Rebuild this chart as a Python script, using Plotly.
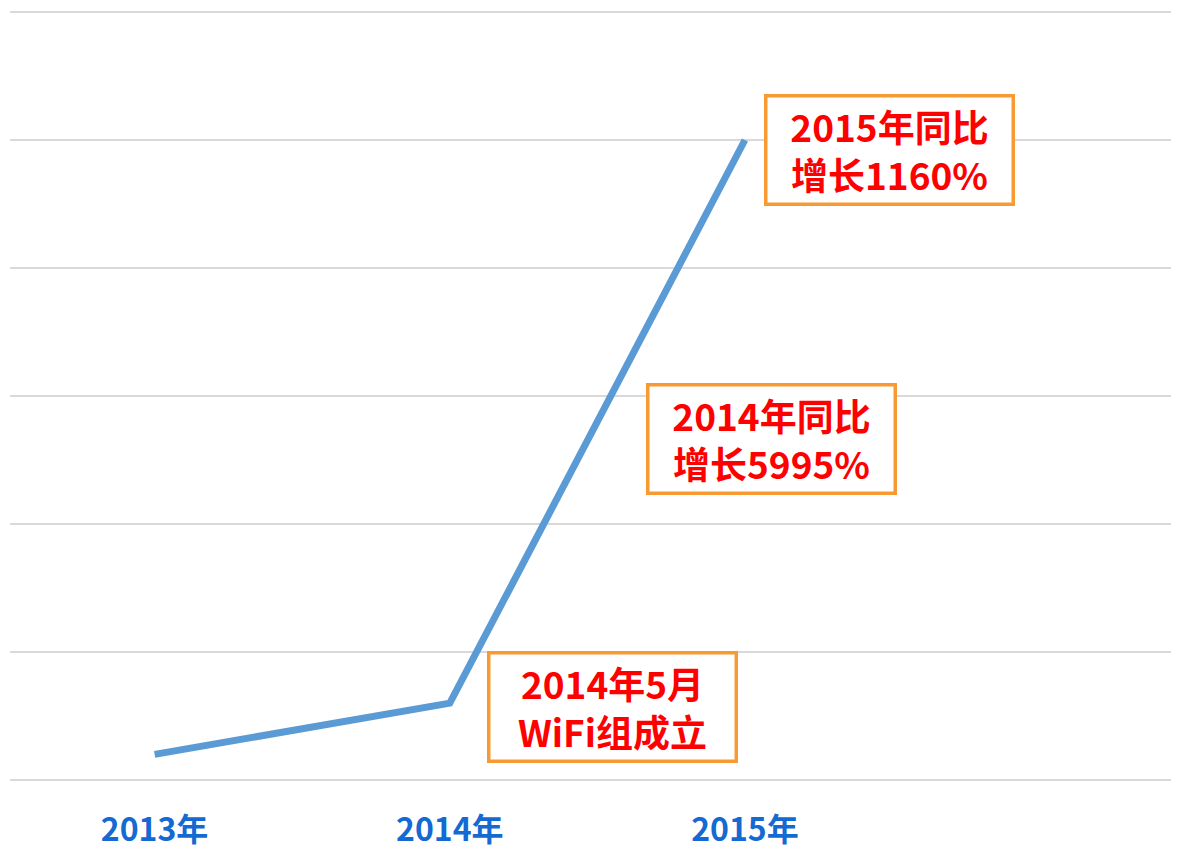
import plotly.graph_objects as go

years = ["2013年", "2014年", "2015年"]
values = [0.2, 0.6, 5.0]
notes = ["2014年5月<br>WiFi组成立", "2014年同比<br>增长5995%", "2015年同比<br>增长1160%"]
note_centers = [(612, 707), (771, 439), (889, 150)]  # pixel centres of boxes (page coords)

W, H = 1179, 848
OFF = 8  # page body offset
ML, MR, MT, MB = 2, 2, 0, 56
PW, PH = W - ML - MR, H - MT - MB

fig = go.Figure()
fig.add_trace(go.Scatter(
    x=years, y=values, mode="lines",
    line=dict(color="#5b9bd5", width=7),
    hoverinfo="x+y",
))

for txt, (cx, cy) in zip(notes, note_centers):
    fig.add_annotation(
        text=txt, xref="paper", yref="paper",
        x=(cx - OFF - ML) / PW, y=(OFF + MT + PH - cy) / PH,
        xanchor="center", yanchor="middle", showarrow=False,
        align="center", width=244, height=105,
        bordercolor="#f79a32", borderwidth=3.5, borderpad=0,
        bgcolor="white",
        font=dict(family="Noto Sans CJK SC", size=37, color="#ff0000", weight="bold"),
    )

fig.update_layout(
    width=W, height=H,
    margin=dict(l=ML, r=MR, t=MT, b=MB),
    paper_bgcolor="white", plot_bgcolor="white",
    showlegend=False,
    xaxis=dict(
        type="category", range=[-0.49, 3.491],
        showgrid=False, zeroline=False, showline=False, ticks="",
        tickfont=dict(family="Noto Sans CJK SC", size=32, color="#1469d2", weight="bold"),
        ticklabelstandoff=8,
    ),
    yaxis=dict(
        range=[-0.15625, 6.03125], dtick=1, tick0=0,
        showgrid=True, gridcolor="#d9d9d9", gridwidth=2,
        zeroline=False, showline=False, showticklabels=False, ticks="",
    ),
)

fig.write_html("out.html")
